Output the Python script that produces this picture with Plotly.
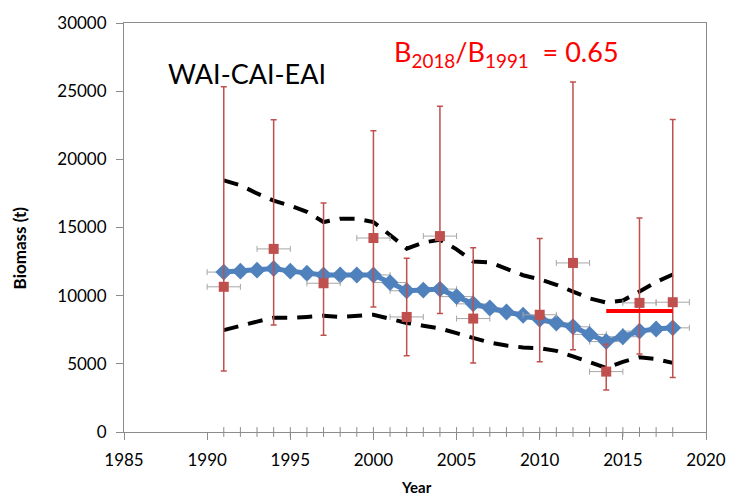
import plotly.graph_objects as go

# ---------------- data ----------------
model_years = list(range(1991, 2019))
model_biomass = [11730, 11800, 11870, 11990, 11800, 11640, 11520, 11520, 11520, 11520,
                 10960, 10360, 10410, 10480, 9930, 9400, 9090, 8800, 8560, 8270,
                 8000, 7715, 7160, 6630, 6990, 7400, 7550, 7640]
model_upper = [18460, 18100, 17500, 16970, 16600, 16150, 15400, 15650, 15650, 15400,
               14450, 13450, 13900, 14100, 13400, 12500, 12450, 12000, 11500, 11200,
               10800, 10300, 9800, 9500, 9650, 10300, 11000, 11550]
model_lower = [7470, 7800, 8100, 8380, 8370, 8440, 8530, 8440, 8540, 8600,
               8300, 8000, 7800, 7600, 7250, 6930, 6560, 6350, 6200, 6150,
               5950, 5550, 5100, 4700, 5150, 5480, 5350, 5070]

survey_years = [1991, 1994, 1997, 2000, 2002, 2004, 2006, 2010, 2012, 2014, 2016, 2018]
survey_biomass = [10650, 13430, 10910, 14230, 8440, 14370, 8320, 8600, 12400, 4430, 9470, 9520]
survey_upper = [25330, 22910, 16800, 22090, 12740, 23890, 13510, 14200, 25670, 6440, 15700, 22930]
survey_lower = [4470, 7840, 7090, 9160, 5600, 8700, 5070, 5150, 6030, 3080, 5720, 3990]
year_halfwidth = [1] * len(survey_years)

recent_years = [2014, 2018]
recent_level = [8870, 8870]

x_ticks = [1985, 1990, 1995, 2000, 2005, 2010, 2015, 2020]
y_ticks = [0, 5000, 10000, 15000, 20000, 25000, 30000]
x_tick_labels = [str(v) for v in x_ticks]
y_tick_labels = [str(v) for v in y_ticks]

RED = "#C0504D"
BLUE = "#4F81BD"
GRAY = "#A6A6A6"
AXIS = "#8C8C8C"
FONT = "Lato"

fig = go.Figure()

# minor year ticks on the x axis
fig.add_trace(go.Scatter(
    x=model_years, y=[0] * len(model_years), mode="markers",
    marker=dict(symbol="line-ns-open", size=7, color=AXIS, line=dict(color=AXIS, width=1)),
    cliponaxis=False, hoverinfo="skip", showlegend=False))

# confidence bounds (dashed)
for band in (model_upper, model_lower):
    fig.add_trace(go.Scatter(
        x=model_years, y=band, mode="lines",
        line=dict(color="black", width=4, dash="15px,10px"),
        showlegend=False))

# model estimates
fig.add_trace(go.Scatter(
    x=model_years, y=model_biomass, mode="lines+markers",
    line=dict(color=BLUE, width=5),
    marker=dict(symbol="diamond", size=13, color=BLUE),
    error_x=dict(type="data", array=[1] * len(model_years), color=GRAY, thickness=1, width=3),
    showlegend=False))

# survey biomass with error bars
fig.add_trace(go.Scatter(
    x=survey_years, y=survey_biomass, mode="markers",
    marker=dict(symbol="square", size=10, color=RED),
    error_y=dict(type="data", symmetric=False,
                 array=[u - b for u, b in zip(survey_upper, survey_biomass)],
                 arrayminus=[b - l for l, b in zip(survey_lower, survey_biomass)],
                 color=RED, thickness=1.5, width=3),
    error_x=dict(type="data", array=year_halfwidth, color=GRAY, thickness=1, width=3),
    showlegend=False))

# recent level line
fig.add_trace(go.Scatter(
    x=recent_years, y=recent_level, mode="lines",
    line=dict(color="#FF0000", width=4), showlegend=False))

L, R, T, B = 124, 25, 16, 66
W, H = 738, 498
pw, ph = W - L - R, H - T - B


def px(xp):
    return (xp - L) / pw


def py(yp):
    return (H - B - yp) / ph


fig.update_layout(
    width=W, height=H,
    margin=dict(l=L, r=R, t=T, b=B),
    paper_bgcolor="white", plot_bgcolor="white",
    font=dict(family=FONT, size=17, color="black"),
    xaxis=dict(range=[1985, 2020], tickvals=x_ticks, ticktext=x_tick_labels,
               ticks="outside", ticklen=7,
               tickcolor=AXIS, showgrid=False, zeroline=False,
               showline=True, linecolor=AXIS, linewidth=1, mirror=True,
               tickfont=dict(family=FONT, size=17, color="black"), ticklabelstandoff=6),
    yaxis=dict(range=[0, 30000], tickvals=y_ticks, ticktext=y_tick_labels,
               ticks="outside", ticklen=7,
               tickcolor=AXIS, showgrid=False, zeroline=False,
               showline=True, linecolor=AXIS, linewidth=1, mirror=True,
               tickfont=dict(family=FONT, size=17, color="black"), ticklabelstandoff=6),
    annotations=[
        dict(text="<b>Biomass (t)</b>", textangle=-90, xref="paper", yref="paper",
             x=px(18), y=py(245), xanchor="center", yanchor="middle", showarrow=False,
             font=dict(family=FONT, size=17, color="black")),
        dict(text="<b>Year</b>", xref="paper", yref="paper",
             x=px(420), y=py(488), xanchor="center", yanchor="middle", showarrow=False,
             font=dict(family=FONT, size=15, color="black")),
        dict(text="WAI-CAI-EAI", xref="paper", yref="paper",
             x=px(166), y=py(67), xanchor="left", yanchor="middle", showarrow=False,
             font=dict(family=FONT, size=27, color="black")),
        dict(text="B<sub>2018</sub>/B<sub>1991</sub>  = 0.65", xref="paper", yref="paper",
             x=px(395), y=py(47), xanchor="left", yanchor="middle", showarrow=False,
             font=dict(family=FONT, size=27, color="#FF0000")),
    ],
)

fig.write_html("out.html")
